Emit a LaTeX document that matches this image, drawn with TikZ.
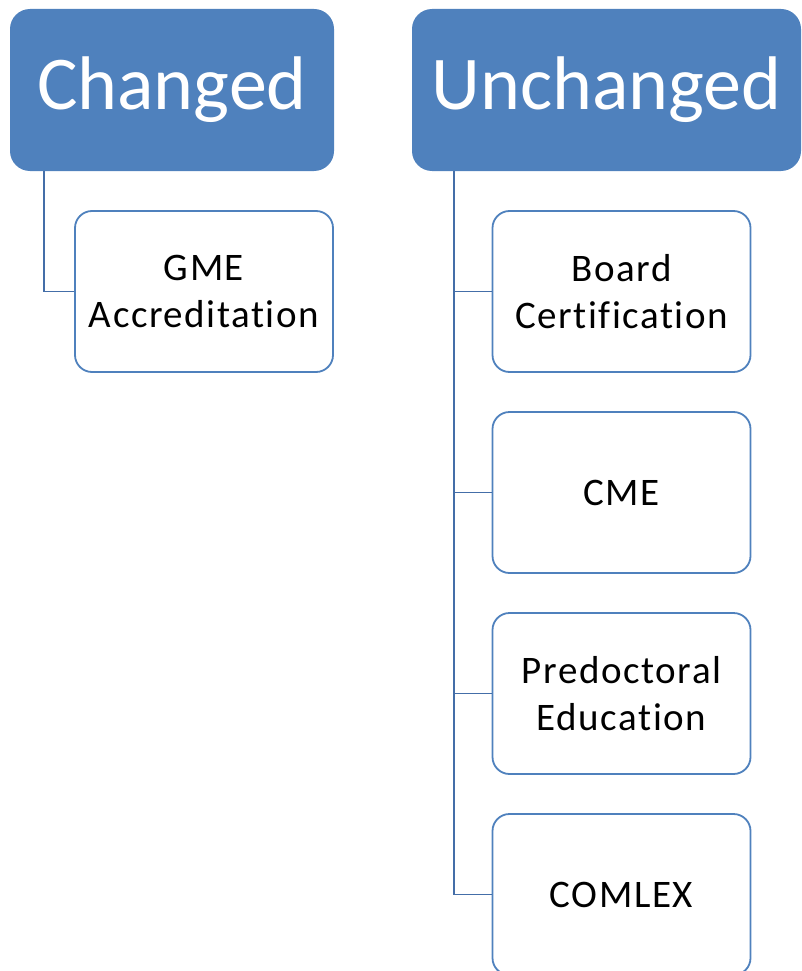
\documentclass[tikz,border=0pt]{standalone}
\usepackage{fontspec}
\setmainfont{Carlito}[Ligatures=NoCommon]
\newfontfamily\childfont{Carlito}[Ligatures=NoCommon, LetterSpace=4]
\definecolor{hdr}{RGB}{79,129,189}
\definecolor{brd}{RGB}{79,129,189}
\definecolor{cnx}{RGB}{68,110,168}
\tikzset{
  header/.style={draw=none, fill=hdr, rounded corners=20pt, text=white,
    font=\fontsize{76}{91}\selectfont, inner sep=0pt, minimum height=162pt},
  child/.style={draw=brd, line width=1.8pt, fill=white, rounded corners=17pt,
    font=\childfont\fontsize{39}{47}\selectfont, align=center, inner sep=0pt,
    minimum width=258pt, minimum height=161pt},
  conn/.style={draw=cnx, line width=1.6pt},
  trunk/.style={draw=cnx, line width=2.2pt},
}
\begin{document}
\begin{tikzpicture}[x=1pt,y=-1pt]
\useasboundingbox (0,0) rectangle (802,971);
\clip (0,0) rectangle (802,971);
\node[header, minimum width=324pt] (changed) at (172,90) {Changed};
\node[header, minimum width=389pt] (unchanged) at (606.5,90) {Unchanged};
\coordinate (cl) at (44,171);
\coordinate (ul) at (454,171);
\node[child] (gme) at (204,291.5) {GME\\Accreditation};
\node[child] (board) at (621.5,291.5) {Board\\Certification};
\node[child] (cme) at (621.5,492.5) {CME};
\node[child] (pred) at (621.5,693.5) {Predoctoral\\Education};
\node[child] (comlex) at (621.5,894.5) {COMLEX};
\draw[conn] (cl) |- (gme.west);
\draw[trunk] (ul) -- (ul |- comlex.west);
\draw[conn] (ul |- board.west) -- (board.west);
\draw[conn] (ul |- cme.west) -- (cme.west);
\draw[conn] (ul |- pred.west) -- (pred.west);
\draw[conn] (ul |- comlex.west) -- (comlex.west);
\end{tikzpicture}
\end{document}
